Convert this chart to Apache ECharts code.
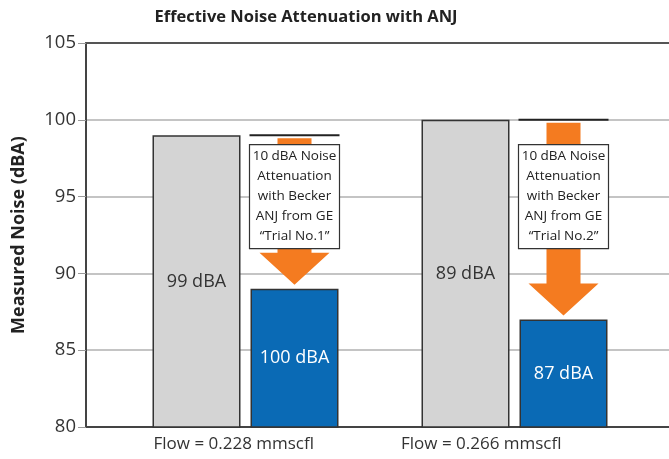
<!DOCTYPE html>
<html>
<head>
<meta charset="utf-8">
<script src="https://cdn.jsdelivr.net/npm/echarts@6/dist/echarts.min.js"></script>
<style>
  html, body { margin: 0; padding: 0; background: #fff; }
  #chart { width: 669px; height: 459px; }
</style>
</head>
<body>
<div id="chart"></div>
<script>
const categories = ["Flow = 0.228 mmscfl", "Flow = 0.266 mmscfl"];
const beforeValues = [99, 100];
const afterValues = [89, 87];
const beforeLabels = ["99 dBA", "89 dBA"];
const afterLabels = ["100 dBA", "87 dBA"];
const calloutText = [
  "10 dBA Noise\nAttenuation\nwith Becker\nANJ from GE\n\u201cTrial No.1\u201d",
  "10 dBA Noise\nAttenuation\nwith Becker\nANJ from GE\n\u201cTrial No.2\u201d",
];
const yTicks = [80, 85, 90, 95, 100, 105];

const FONT = "'Open Sans', 'Noto Sans', sans-serif";
const BAR_W = 88;
const BAR_GAP = 10;
const CALLOUT_VALUE = 95;

const chart = echarts.init(document.getElementById("chart"));

const yBase = { type: "value", min: yTicks[0], max: yTicks[yTicks.length - 1], interval: 5 };

// orange arrow from the "before" level down to the blue bar, plus the callout box
function renderArrow(params, api) {
  const idx = api.value(0);
  const from = api.coord([idx, api.value(1)]);
  const to = api.coord([idx, api.value(2)]);
  const cx = from[0] + (BAR_W + BAR_GAP) / 2;
  const top = from[1];
  const tip = to[1] - 4;
  const headH = 32;
  const shaftHalf = 17;
  const headHalf = 35;
  const box = api.coord([idx, CALLOUT_VALUE]);
  return {
    type: "group",
    children: [
      {
        type: "polygon",
        shape: {
          points: [
            [cx - shaftHalf, top + 3], [cx + shaftHalf, top + 3],
            [cx + shaftHalf, tip - headH], [cx + headHalf, tip - headH],
            [cx, tip], [cx - headHalf, tip - headH],
            [cx - shaftHalf, tip - headH],
          ],
        },
        style: { fill: "#f47b20" },
      },
      {
        type: "line",
        shape: { x1: cx - BAR_W / 2 - 1, y1: top, x2: cx + BAR_W / 2 + 1, y2: top },
        style: { stroke: "#222", lineWidth: 2 },
      },
      {
        type: "rect",
        shape: { x: cx - 45, y: box[1] - 52, width: 90, height: 104 },
        style: { fill: "#fff", stroke: "#333", lineWidth: 1.2 },
      },
      {
        type: "text",
        x: cx,
        y: box[1],
        style: {
          text: calloutText[idx],
          fill: "#222",
          font: "13.5px " + FONT,
          lineHeight: 20,
          align: "center",
          verticalAlign: "middle",
        },
      },
    ],
  };
}

chart.setOption({
  animation: false,
  title: {
    text: "Effective Noise Attenuation with ANJ",
    left: 301,
    top: 4,
    textAlign: "center",
    textStyle: { fontFamily: FONT, fontSize: 16.5, fontWeight: "bold", color: "#222" },
  },
  grid: [
    { left: 86, right: 0, top: 43, bottom: 32 },
    { left: 111, right: 20, top: 43, bottom: 32 },
    { left: 110, right: 64, top: 43, bottom: 32 },
  ],
  xAxis: [
    {
      gridIndex: 0, type: "category", data: categories,
      axisLine: { lineStyle: { color: "#444", width: 2 } },
      axisTick: { show: false }, axisLabel: { show: false },
    },
    {
      gridIndex: 0, type: "category", data: categories, position: "top",
      axisLine: { lineStyle: { color: "#555", width: 2 } },
      axisTick: { show: false }, axisLabel: { show: false },
    },
    { gridIndex: 1, type: "category", data: categories, show: false },
    {
      gridIndex: 2, type: "category", data: categories,
      axisLine: { show: false }, axisTick: { show: false },
      axisLabel: { fontFamily: FONT, fontSize: 17, color: "#333", margin: 9 },
    },
  ],
  yAxis: [
    {
      ...yBase, gridIndex: 0,
      name: "Measured Noise (dBA)",
      nameLocation: "middle",
      nameGap: 58,
      nameTextStyle: { fontFamily: FONT, fontSize: 18, fontWeight: "bold", color: "#222" },
      axisLine: { show: true, lineStyle: { color: "#444", width: 2 } },
      axisTick: { show: true, length: 8, lineStyle: { color: "#999" } },
      axisLabel: { fontFamily: FONT, fontSize: 18.5, color: "#333", margin: 10 },
      splitLine: { show: true, lineStyle: { color: "#c4c4c4", width: 2 } },
    },
    { ...yBase, gridIndex: 1, show: false, splitLine: { show: false } },
    { ...yBase, gridIndex: 2, show: false, splitLine: { show: false } },
  ],
  series: [
    {
      type: "bar", xAxisIndex: 2, yAxisIndex: 1,
      data: beforeValues, barWidth: BAR_W, barGap: (BAR_GAP / BAR_W * 100) + "%",
      itemStyle: { color: "#d4d4d4", borderColor: "#333", borderWidth: 1.5 },
      label: {
        show: true, position: "inside",
        formatter: (p) => beforeLabels[p.dataIndex],
        fontFamily: FONT, fontSize: 18, color: "#333",
      },
    },
    {
      type: "bar", xAxisIndex: 2, yAxisIndex: 1,
      data: afterValues, barWidth: BAR_W,
      itemStyle: { color: "#0a6ab5", borderColor: "#333", borderWidth: 1.5 },
      label: {
        show: true, position: "inside",
        formatter: (p) => afterLabels[p.dataIndex],
        fontFamily: FONT, fontSize: 18, color: "#fff",
      },
    },
    {
      type: "custom", xAxisIndex: 2, yAxisIndex: 1,
      data: categories.map((c, i) => [i, beforeValues[i], afterValues[i]]),
      renderItem: renderArrow,
      z: 5,
    },
  ],
});
</script>
</body>
</html>
